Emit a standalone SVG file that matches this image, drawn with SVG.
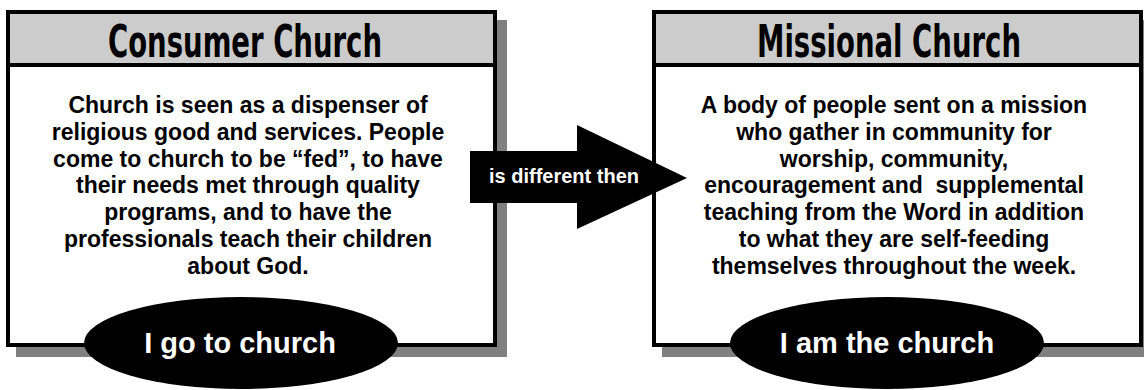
<svg xmlns="http://www.w3.org/2000/svg" width="1144" height="390" viewBox="0 0 1144 390">
<style>
.shadow{fill:#808080}
.box{fill:#ffffff;stroke:#000000;stroke-width:4}
.band{fill:#cccccc}
.rule{stroke:#000000;stroke-width:4}
.title{font-family:"DejaVu Sans Condensed","Liberation Sans Narrow","Liberation Sans",sans-serif;font-weight:bold;font-size:45px;fill:#000000;text-anchor:middle}
.body{font-family:"Liberation Sans",Arial,sans-serif;font-weight:bold;font-size:23px;fill:#000000;text-anchor:middle}
.oval{fill:#000000}
.ovaltext{font-family:"Liberation Sans",Arial,sans-serif;font-weight:bold;font-size:29px;fill:#ffffff;text-anchor:middle}
.arrowtext{font-family:"Liberation Sans",Arial,sans-serif;font-weight:bold;font-size:20px;fill:#ffffff;text-anchor:middle}
</style>
<rect width="1144" height="390" fill="#ffffff"/>
<g id="consumer-church">
<rect class="shadow" x="16" y="20" width="491" height="337"/>
<rect class="box" x="8" y="12" width="487" height="333"/>
<rect class="band" x="10" y="14" width="483" height="49"/>
<line class="rule" x1="8" y1="65" x2="495" y2="65"/>
<text class="title" transform="translate(245,57) scale(0.68,1)">Consumer Church</text>
<text class="body" x="248" y="113">Church is seen as a dispenser of</text>
<text class="body" x="248" y="140">religious good and services. People</text>
<text class="body" x="248" y="167">come to church to be “fed”, to have</text>
<text class="body" x="248" y="193">their needs met through quality</text>
<text class="body" x="248" y="220">programs, and to have the</text>
<text class="body" x="248" y="247">professionals teach their children</text>
<text class="body" x="248" y="274">about God.</text>
<ellipse class="oval" cx="241" cy="343" rx="157" ry="46"/>
<text class="ovaltext" x="240" y="353">I go to church</text>
</g>
<g id="missional-church">
<rect class="shadow" x="662" y="20" width="491" height="337"/>
<rect class="box" x="654" y="12" width="487" height="333"/>
<rect class="band" x="656" y="14" width="483" height="49"/>
<line class="rule" x1="654" y1="65" x2="1141" y2="65"/>
<text class="title" transform="translate(889,57) scale(0.68,1)">Missional Church</text>
<text class="body" x="894" y="113">A body of people sent on a mission</text>
<text class="body" x="894" y="140">who gather in community for</text>
<text class="body" x="894" y="167">worship, community,</text>
<text class="body" x="894" y="193" xml:space="preserve">encouragement and  supplemental</text>
<text class="body" x="894" y="220">teaching from the Word in addition</text>
<text class="body" x="894" y="247">to what they are self-feeding</text>
<text class="body" x="894" y="274">themselves throughout the week.</text>
<ellipse class="oval" cx="887" cy="343" rx="157" ry="46"/>
<text class="ovaltext" x="887" y="353">I am the church</text>
</g>
<g id="connectors">
<polygon points="470,151 577,151 577,125 687,178 577,229 577,203 470,203" fill="#000000"/>
<text class="arrowtext" x="564" y="183">is different then</text>
</g>
</svg>
